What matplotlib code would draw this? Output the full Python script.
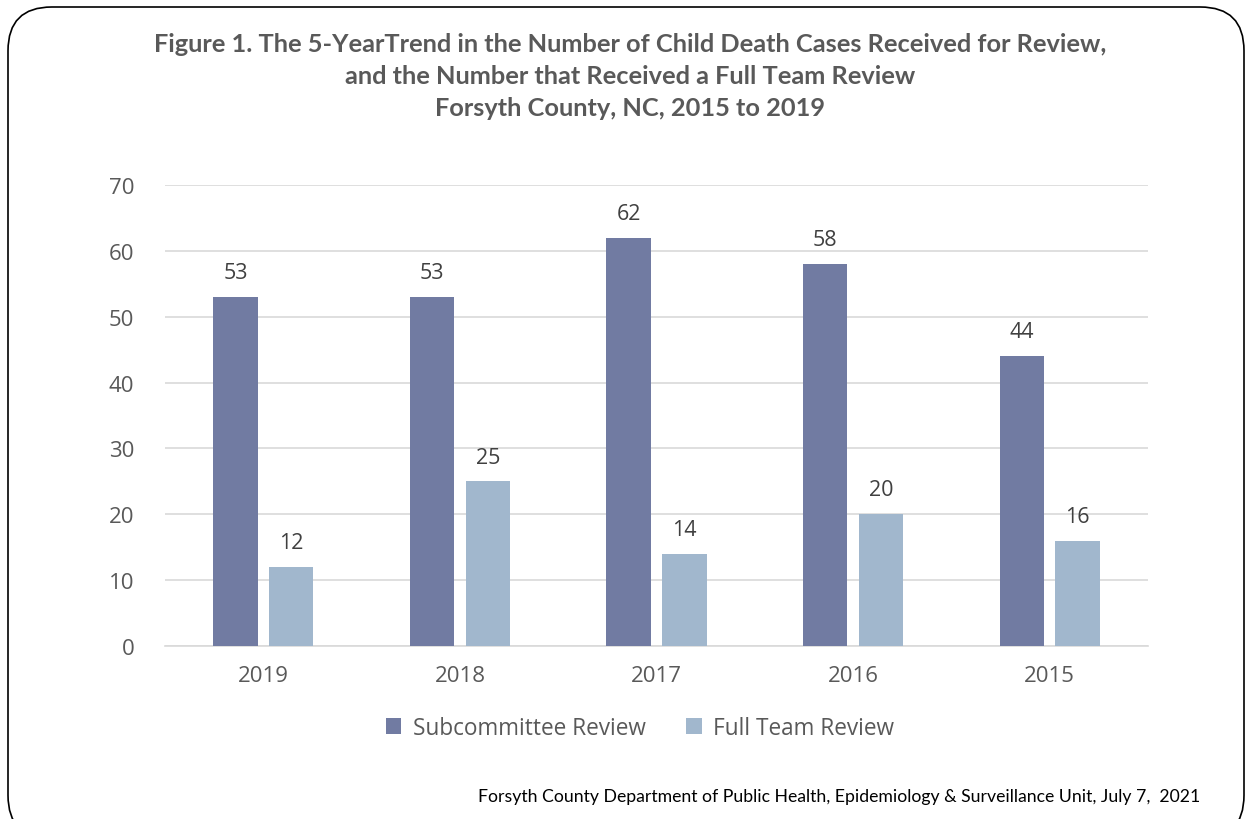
import matplotlib.pyplot as plt
import numpy as np
from matplotlib.patches import FancyBboxPatch

# data
years = ['2019', '2018', '2017', '2016', '2015']
subcommittee = [53, 53, 62, 58, 44]
full_team = [12, 25, 14, 20, 16]

sub_color = '#717BA2'
full_color = '#A1B7CD'
text_color = '#595959'

plt.rcParams['font.family'] = ['Open Sans', 'DejaVu Sans']

fig = plt.figure(figsize=(12.51, 8.2), dpi=100)
ax = fig.add_axes([165 / 1251, 1 - 647 / 820, 983 / 1251, (647 - 186) / 820])

x = np.arange(len(years))
w = 0.225
off = 0.142
b1 = ax.bar(x - off, subcommittee, w, color=sub_color, label='Subcommittee Review', zorder=3)
b2 = ax.bar(x + off, full_team, w, color=full_color, label='Full Team Review', zorder=3)

for bars, vals in ((b1, subcommittee), (b2, full_team)):
    for rect, v in zip(bars, vals):
        ax.text(rect.get_x() + rect.get_width() / 2, v + 2.1, str(v),
                ha='center', va='bottom', fontsize=15.5, color='#404040')

ax.set_xlim(-0.5, len(years) - 0.5)
ax.set_ylim(0, 70)
ax.set_yticks(range(0, 71, 10))
ax.set_xticks(x)
ax.set_xticklabels(years)
ax.tick_params(length=0, labelsize=16, labelcolor=text_color)
ax.tick_params(axis='y', pad=22)
ax.tick_params(axis='x', pad=14)
ax.grid(axis='y', color='#D9D9D9', linewidth=1.2, zorder=0)
for s in ['top', 'right', 'left']:
    ax.spines[s].set_visible(False)
ax.spines['bottom'].set_color('#D9D9D9')
ax.spines['bottom'].set_linewidth(1.2)

ax.legend(loc='center', bbox_to_anchor=(640 / 1251, 1 - 729 / 820), bbox_transform=fig.transFigure,
          ncol=2, frameon=False, fontsize=16.3, handlelength=0.7, handleheight=0.7,
          columnspacing=1.8, handletextpad=0.5, labelcolor=text_color)

title_lines = ['Figure 1. The 5-YearTrend in the Number of Child Death Cases Received for Review,',
               'and the Number that Received a Full Team Review',
               'Forsyth County, NC, 2015 to 2019']
for i, line in enumerate(title_lines):
    fig.text(630 / 1251, 1 - (44 + 32 * i) / 820, line, ha='center', va='center',
             fontsize=18.3, fontweight='bold', color=text_color, family=['Lato', 'DejaVu Sans'])

fig.text(1200 / 1251, 1 - 797 / 820,
         'Forsyth County Department of Public Health, Epidemiology & Surveillance Unit, July 7,  2021',
         ha='right', va='center', fontsize=12.7, color='black', family=['Lato', 'DejaVu Sans'])

border = FancyBboxPatch((8 / 1251, -20 / 820), 1236 / 1251, 832 / 820,
                        boxstyle='round,pad=0,rounding_size=0.035',
                        transform=fig.transFigure, facecolor='none', edgecolor='black',
                        linewidth=1.2, mutation_aspect=1251 / 820)
fig.patches.append(border)

fig.savefig('out.png', dpi=100)
